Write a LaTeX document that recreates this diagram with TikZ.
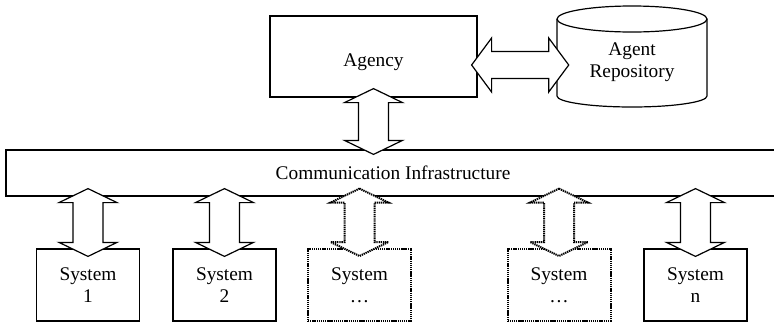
\documentclass[tikz,border=0pt]{standalone}
\usepackage{fontspec}
\setmainfont{Liberation Serif}
\usetikzlibrary{calc}
\newcommand\vdarrow[3]{%
 \draw[#1] let \p1=(#2), \p2=(#3) in
 (\x1,\y1) -- (\x1+21.75pt,\y1-10.5pt) -- (\x1+11.25pt,\y1-10.5pt) -- (\x1+11.25pt,\y2+10.5pt) -- (\x1+21.75pt,\y2+10.5pt) -- (\x1,\y2) -- (\x1-21.75pt,\y2+10.5pt) -- (\x1-11.25pt,\y2+10.5pt) -- (\x1-11.25pt,\y1-10.5pt) -- (\x1-21.75pt,\y1-10.5pt) -- cycle;}
\newcommand\hdarrow[3]{%
 \draw[#1] let \p1=(#2), \p2=(#3) in
 (\x1,\y1) -- (\x1+15pt,\y1+20.25pt) -- (\x1+15pt,\y1+10.125pt) -- (\x2-15pt,\y1+10.125pt) -- (\x2-15pt,\y1+20.25pt) -- (\x2,\y1) -- (\x2-15pt,\y1-20.25pt) -- (\x2-15pt,\y1-10.125pt) -- (\x1+15pt,\y1-10.125pt) -- (\x1+15pt,\y1-20.25pt) -- cycle;}
\tikzset{
  box/.style={draw, line width=0.9pt, fill=white, inner sep=0pt, align=center, font=\fontsize{14.5}{16.5}\selectfont},
  sysbox/.style={box, minimum width=77.25pt, minimum height=54pt},
  dotbox/.style={sysbox, line width=1.5pt, dash pattern=on 1pt off 0.6pt},
  arr/.style={draw, line width=0.9pt, fill=white, line join=miter},
  dotarr/.style={arr, line width=1.5pt, dash pattern=on 1pt off 0.6pt},
  lbl/.style={align=center, inner sep=0pt, font=\fontsize{14.5}{16.5}\selectfont}
}
\begin{document}
\begin{tikzpicture}[x=0.75pt,y=-0.75pt]
\clip (0,0) rectangle (774,322);
\fill[white] (0,0) rectangle (774,322);
% Agency
\node[box, minimum width=155.25pt, minimum height=60.75pt] (agency) at (373.5,56.5) {};
\node[lbl] (agencylbl) at (373.5,62) {Agency};
% Repository cylinder
\draw[line width=0.9pt, fill=white] (557,19) -- (557,96) arc[start angle=180,end angle=360,x radius=56.25pt,y radius=8.25pt] -- (707,19) arc[start angle=0,end angle=180,x radius=56.25pt,y radius=9.75pt] -- cycle;
\draw[line width=0.9pt] (557,19) arc[start angle=180,end angle=360,x radius=56.25pt,y radius=9.75pt];
\node[lbl, minimum width=112.5pt] (repo) at (632,62) {Agent\\Repository};
% Communication infrastructure
\node[box, minimum width=580.5pt, minimum height=34.5pt] (comm) at (393,173) {Communication Infrastructure};
% Systems
\node[sysbox] (s1) at (88,285) {System\\1};
\node[sysbox] (s2) at (224.5,285) {System\\2};
\node[dotbox] (s3) at (359.5,285) {System\\\dots};
\node[dotbox] (s4) at (559,285) {System\\\dots};
\node[sysbox] (sn) at (695.5,285) {System\\n};
% Arrows
\hdarrow{arr}{$(agency.east)+(-6,8.5)$}{$(repo.west)+(12,3)$}
\vdarrow{arr}{$(agency.south)+(0,-9)$}{$(comm.north -| agency.south)+(0,5)$}
\vdarrow{arr}{$(comm.south -| s1.north)+(0,-8)$}{$(s1.north)+(0,8)$}
\vdarrow{arr}{$(comm.south -| s2.north)+(0,-8)$}{$(s2.north)+(0,8)$}
\vdarrow{dotarr}{$(comm.south -| s3.north)+(0,-8)$}{$(s3.north)+(0,8)$}
\vdarrow{dotarr}{$(comm.south -| s4.north)+(0,-8)$}{$(s4.north)+(0,8)$}
\vdarrow{arr}{$(comm.south -| sn.north)+(0,-8)$}{$(sn.north)+(0,8)$}
\end{tikzpicture}
\end{document}
